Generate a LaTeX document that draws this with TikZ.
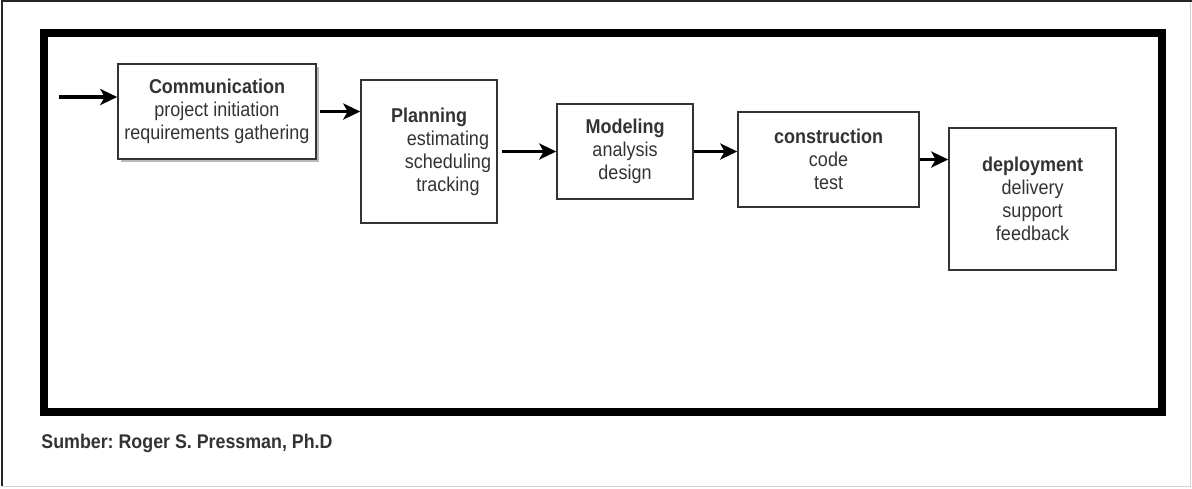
\documentclass[tikz,border=0pt]{standalone}
\usepackage{fontspec}
\setmainfont[FakeStretch=0.9]{Liberation Sans}
\usetikzlibrary{arrows.meta,shadows}
\definecolor{inkgray}{HTML}{333333}
\begin{document}
\frenchspacing
\begin{tikzpicture}[x=0.5pt,y=-0.5pt,
    stage/.style={draw=inkgray,line width=0.75pt,fill=white,text=inkgray,
      align=center,inner sep=0pt,font=\fontsize{10}{11.5}\selectfont},
    flow/.style={line width=1.6pt,-{Stealth[length=8.5pt,width=8pt,inset=2.2pt]}}]
      \useasboundingbox (0,0) rectangle (1192,488);

      % page edge and outer frame
      \draw[gray!35,line width=0.5pt] (1190,1) -- (1190,486) -- (2,486);
      \draw[black!85,line width=0.6pt] (2,486) -- (2,1) -- (1192,1);
      \draw[line width=4pt] (44,33) rectangle (1161.5,412);

      \node[stage,minimum width=99pt,minimum height=47.5pt,
        drop shadow={shadow xshift=1.5pt,shadow yshift=-1.5pt,fill=gray!55,opacity=1}]
        (comm) at (217,111.5) {\textbf{Communication}\\project initiation\\requirements gathering};
      \node[stage,minimum width=68pt,minimum height=71.5pt] (plan) at (429,151.5)
        {\textbf{Planning}\\\hspace*{19pt}estimating\\\hspace*{19pt}scheduling\\\hspace*{19pt}tracking};
      \node[stage,minimum width=68pt,minimum height=47.5pt] (model) at (625,151.5)
        {\textbf{Modeling}\\analysis\\design};
      \node[stage,minimum width=90.5pt,minimum height=47.5pt] (cons) at (828.5,159.5)
        {\textbf{construction}\\code\\test};
      \node[stage,minimum width=83.5pt,minimum height=71pt] (deploy) at (1032.5,199)
        {\textbf{deployment}\\delivery\\support\\feedback};

      \coordinate (start) at (59,97);
      \draw[flow] (start) -- (comm.west |- start);
      \draw[flow] ([xshift=1.5pt]comm.east) -- (comm.east -| plan.west);
      \draw[flow] ([xshift=2pt]plan.east) -- (model.west);
      \draw[flow] (model.east) -- (model.east -| cons.west);
      \draw[flow] (cons.east) -- (cons.east -| deploy.west);

      \node[anchor=west,inner sep=0pt,text=inkgray,font=\fontsize{9.9}{10}\selectfont\bfseries]
        (source) at (41,443) {Sumber: Roger S. Pressman, Ph.D};
\end{tikzpicture}
\end{document}
